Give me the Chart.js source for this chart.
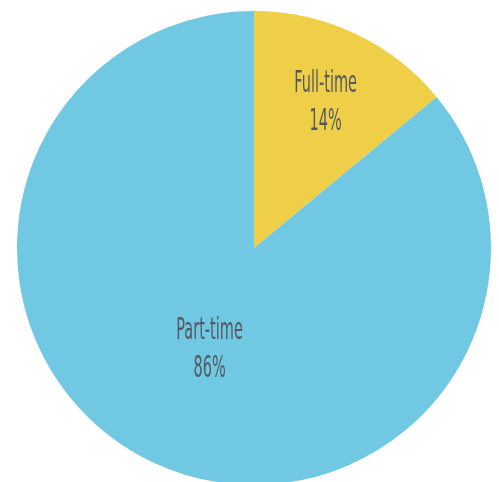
<!DOCTYPE html>
<html>
<head>
<meta charset="utf-8">
<script src="https://cdn.jsdelivr.net/npm/chart.js@4"></script>
<style>
  html, body { margin: 0; padding: 0; background: #fff; overflow: hidden; }
  body { width: 499px; height: 482px; position: relative; }
  #wrap { position: absolute; left: 17px; top: 11px; width: 474px; height: 474px; }
</style>
</head>
<body>
<div id="wrap"><canvas id="pie"></canvas></div>
<script>
const categories = ['Full-time', 'Part-time'];
const shares = [14, 86];
const sliceColors = ['#efcf47', '#70c8e3'];

// label sits at this fraction of the radius along each slice's middle angle
const labelRadius = [0.69, 0.46];

const sliceLabels = {
  id: 'sliceLabels',
  afterDatasetsDraw(chart) {
    const ctx = chart.ctx;
    const arcs = chart.getDatasetMeta(0).data;
    ctx.save();
    ctx.fillStyle = '#545a5f';
    ctx.textAlign = 'center';
    ctx.textBaseline = 'alphabetic';
    ctx.font = '31px "DejaVu Sans Condensed", "Liberation Sans Narrow", sans-serif';
    arcs.forEach((arc, i) => {
      const mid = (arc.startAngle + arc.endAngle) / 2;
      const d = arc.outerRadius * labelRadius[i];
      const x = arc.x + Math.cos(mid) * d;
      const y = arc.y + Math.sin(mid) * d;
      ctx.save();
      ctx.translate(x + 2, y);
      ctx.scale(0.52, 1);
      ctx.fillText(categories[i], 0, -8);
      ctx.fillText(shares[i] + '%', 0, 30);
      ctx.restore();
    });
    ctx.restore();
  }
};

new Chart(document.getElementById('pie'), {
  type: 'pie',
  data: {
    labels: categories,
    datasets: [{
      data: shares,
      backgroundColor: sliceColors,
      borderWidth: 0
    }]
  },
  options: {
    responsive: true,
    maintainAspectRatio: false,
    animation: false,
    layout: { padding: 0 },
    plugins: {
      legend: { display: false },
      tooltip: { enabled: false }
    }
  },
  plugins: [sliceLabels]
});
</script>
</body>
</html>
